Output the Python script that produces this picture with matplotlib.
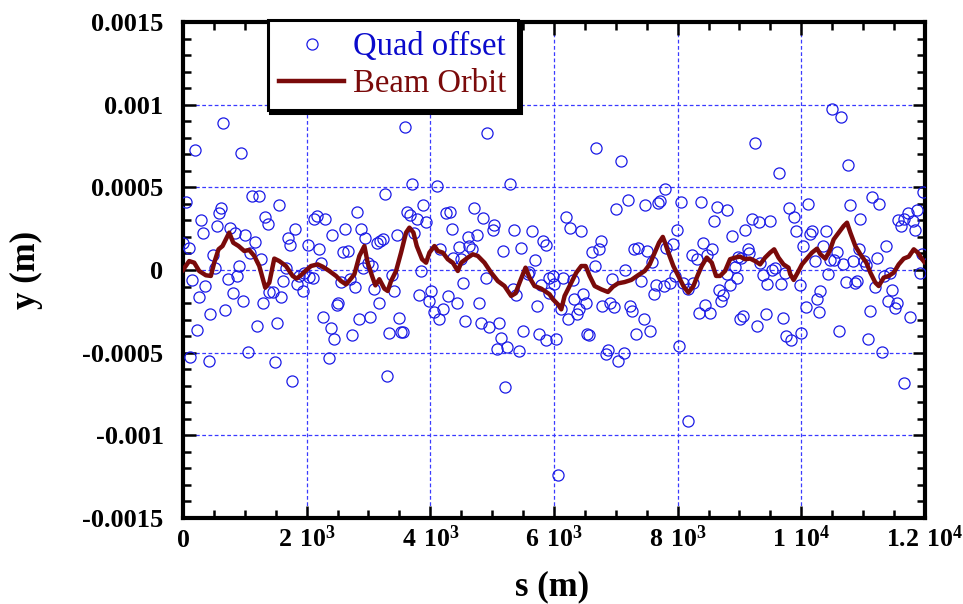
import numpy as np
import matplotlib
matplotlib.use('Agg')
import matplotlib.pyplot as plt
from matplotlib.ticker import MultipleLocator, FixedLocator, FixedFormatter

# Quad offsets (s in m, y in mm -> converted to m below)
quad_s = [
    46, 90, 3, 187, 640, 937, 295, 327, 543, 586, 619, 759, 845, 1007, 1158, 1083, 1266, 478, 511, 910,
    867, 726, 154, 360, 262, 802, 975, 683, 435, 219, 1191, 1514, 111, 413, 1050, 1482, 1763, 1115, 1223, 1331,
    1374, 1547, 1806, 1698, 1730, 1298, 1396, 1450, 1590, 1622, 1666, 1849, 1946, 1881, 2016, 1962,
    2043, 2097, 3597, 3705, 3273, 3889, 3932, 2162, 2118, 2302, 2809, 2626, 2410, 2874, 2950, 2194, 2237, 3630,
    3673, 3781, 3738, 3457, 3133, 3187, 3241, 2593, 2669, 2993, 2917, 3058, 3846, 2550, 2701, 2777, 3090, 3381,
    3414, 3813, 3166, 2507, 2485, 2270, 2842, 3025, 3489, 2388, 2442, 2734, 3338, 3522, 3565, 2356, 3306, 3986,
    4013, 4061, 4148, 4213, 4288, 4428, 4105, 4925, 5281, 4256, 4321, 4353, 4709, 4849, 5033, 5011, 4752, 4612,
    4461, 4633, 4677, 4364, 4493, 4159, 5173, 5357, 5470, 5648, 5686, 5821, 5875, 4903, 4526, 4785, 4569, 4817,
    4957, 5119, 5141, 5076, 5238, 5432, 5335, 5389, 5573, 5594, 5788, 5724, 5497, 5756, 5864, 5216, 5918, 5918,
    6037, 5983, 6004, 6145, 6307, 6328, 6220, 6371, 6404, 6469, 6523, 6112, 6069, 6684, 7084, 7791, 7008, 7192,
    7472, 7678, 7721, 6188, 6253, 6436, 6760, 6728, 6609, 6663, 7300, 7365, 7505, 7580, 7818, 6933, 7149, 7408,
    7645, 7624, 7775, 6782, 6901, 6976, 7224, 7267, 7451, 6533, 6566, 7332, 7548, 6836, 6879, 7041, 7127,
    7920, 7877, 7952, 7985, 8060, 8384, 8028, 8093, 8168, 8255, 8233, 8309, 8406, 8471, 8557, 8589, 8643, 8805,
    8881, 9097, 9205, 9313, 9486, 9248, 9636, 9798, 9140, 9162, 8978, 9021, 8795, 8935, 8956, 8848, 8665, 8740,
    8697, 9334, 9388, 9453, 9528, 9582, 9669, 9744, 8341, 8449, 8525, 9010, 9064, 9280, 9431, 9712, 9755, 9840,
    8168,
    9995, 9973, 9887, 9908, 10027, 10113, 10146, 10178, 10221, 10070, 10254, 10308, 10286, 10351, 10394, 10437,
    10470, 10524, 10578, 10675, 10610, 10502, 10642, 10761, 10783, 10955, 10934, 10837, 10718, 10869, 10901,
    11009, 11052, 11150, 11258, 11225, 11365, 11193, 11333, 11441, 11473, 11398, 11516, 11549, 11106, 11074,
    11301, 11657, 11560, 11614, 11668, 11722, 11808, 11840, 11873, 11970, 11948, 11916, 11765,
]
quad_y_mm = [
    0.411, 0.135, 0.161, 0.726, 0.887, 0.706, 0.302, 0.226, 0.266, 0.343, 0.377, 0.252, 0.226, 0.210, 0.169, 0.105, 0.069, 0.089, 0.014, 0.024,
    -0.036, -0.056, -0.063, -0.097, -0.161, -0.141, -0.188, -0.242, -0.266, -0.363, -0.339, -0.323, -0.524, -0.550, -0.496, -0.556, -0.673, 0.448, 0.448, 0.321,
    0.280, 0.391, 0.250, 0.192, 0.153, -0.198, -0.133, -0.133, -0.161, -0.069, 0.014, -0.087, -0.127, -0.036, 0.149, -0.016,
    -0.042, -0.046, 0.865, 0.522, 0.458, 0.391, 0.292, 0.327, 0.306, 0.310, 0.351, 0.250, 0.210, 0.246, 0.192, 0.129, 0.044, 0.351,
    0.331, 0.310, 0.222, 0.210, 0.161, 0.175, 0.185, 0.109, 0.117, 0.044, 0.012, 0.024, -0.006, -0.073, -0.056, -0.105, -0.117, -0.028,
    -0.129, -0.149, -0.198, -0.202, -0.214, -0.282, -0.294, -0.286, -0.290, -0.351, -0.415, -0.391, -0.379, -0.375, -0.375, -0.532, -0.641, -0.188,
    -0.127, -0.254, -0.294, -0.234, -0.157, -0.198, 0.508, 0.831, 0.522, 0.343, 0.351, 0.250, 0.377, 0.315, 0.270, 0.242, 0.210, 0.202,
    0.141, 0.145, 0.129, 0.073, 0.065, 0.125, 0.115, 0.242, 0.133, 0.234, 0.058, 0.177, 0.149, -0.046, -0.077, -0.198, -0.310, -0.319,
    -0.343, -0.319, -0.409, -0.476, -0.464, -0.488, -0.113, -0.153, -0.024, -0.012, -0.093, -0.218, -0.371, -0.387, -0.423, -0.710, -0.046, -0.141,
    -0.419, -0.036, -0.087, -0.048, -0.060, -0.173, -0.294, -0.266, -0.238, -0.147, -0.202, -0.238, -1.242, 0.740, 0.661, 0.492, 0.367, 0.421,
    0.391, 0.403, 0.417, 0.323, 0.254, 0.234, 0.175, 0.129, 0.109, 0.024, 0.125, 0.133, 0.117, 0.048, 0.135, -0.052, 0.000, -0.067,
    -0.089, -0.143, -0.097, -0.218, -0.198, -0.222, -0.218, -0.250, -0.294, -0.387, -0.395, -0.389, -0.367, -0.508, -0.484, -0.552, -0.500,
    0.155, -0.081, -0.036, 0.242, 0.411, 0.411, -0.460, -0.077, -0.117, -0.077, 0.093, 0.069, 0.161, 0.093, 0.125, 0.294, 0.383, 0.363,
    0.206, 0.242, 0.310, 0.290, 0.298, 0.766, 0.585, 0.377, 0.129, 0.105, 0.081, 0.073, -0.026, 0.020, -0.046, -0.093, -0.121, -0.149,
    -0.190, 0.044, -0.032, -0.085, 0.000, 0.012, -0.085, -0.016, -0.258, -0.214, -0.262, -0.294, -0.278, -0.339, -0.266, -0.292, -0.399, -0.423,
    -0.913,
    -0.383, -0.089, 0.319, 0.234, 0.145, 0.399, 0.218, 0.238, 0.052, -0.222, -0.173, -0.127, -0.254, 0.145, 0.238, -0.026,
    0.060, 0.060, 0.109, 0.034, -0.371, 0.976, 0.925, 0.635, 0.395, 0.310, 0.129, 0.052, -0.073, -0.077, -0.069,
    0.054, 0.032, 0.444, 0.399, 0.075, 0.145, -0.105, -0.036, -0.020, -0.121, -0.188, -0.230, -0.202, -0.250, -0.419,
    -0.496, -0.681, 0.302, 0.266, 0.306, 0.347, 0.298, 0.240, 0.363, 0.472, 0.095, -0.016, -0.286,
]

# Beam orbit (s in m, y in mm)
orbit_s = [
    0, 100, 182, 262, 370, 451, 505, 575, 640, 748, 813, 899, 991, 1072, 1153, 1234, 1331, 1396, 1477, 1558,
    1666, 1774, 1838, 1908, 1979, 2070, 2178, 2259, 2367, 2475, 2556, 2637, 2718, 2772, 2853, 2934, 2987, 3058,
    3112, 3176, 3257, 3311, 3365, 3446, 3527, 3608, 3662, 3727, 3781, 3867, 3932, 3986, 4067, 4121, 4202, 4283,
    4364, 4445, 4499, 4607, 4687, 4768, 4876, 4984, 5092, 5200, 5308, 5378, 5443, 5540, 5605, 5686, 5794, 5929,
    5983, 6064, 6118, 6172, 6253, 6361, 6442, 6512, 6577, 6658, 6765, 6873, 6954, 7035, 7143, 7251, 7359, 7467,
    7548, 7629, 7699, 7760, 7796, 7850, 7931, 8012, 8093, 8174, 8255, 8320, 8390, 8471, 8552, 8622, 8687, 8767,
    8848, 8929, 9010, 9091, 9172, 9253, 9334, 9415, 9496, 9561, 9631, 9712, 9793, 9822, 9876, 9941, 10011,
    10092, 10173, 10254, 10308, 10389, 10459, 10524, 10605, 10685, 10739, 10793, 10874, 10955, 11052, 11117,
    11198, 11252, 11333, 11414, 11495, 11576, 11657, 11738, 11819, 11884, 11954, 11990,
]
orbit_y_mm = [
    0.000, 0.054, 0.044, -0.006, -0.032, -0.036, 0.044, 0.125, 0.145, 0.226, 0.165, 0.145, 0.115, 0.121, 0.085, 0.024, -0.107, -0.077, 0.069, 0.054,
    0.024, -0.036, -0.052, -0.032, -0.006, 0.024, 0.034, 0.020, -0.006, -0.036, -0.067, -0.087, -0.052, -0.026, 0.085, 0.145, 0.044, -0.036,
    -0.093, -0.056, -0.113, -0.127, -0.067, -0.006, 0.105, 0.226, 0.256, 0.226, 0.145, 0.065, 0.044, 0.105, 0.145, 0.115, 0.105, 0.065,
    0.044, -0.006, 0.044, 0.075, 0.095, 0.085, 0.044, -0.016, -0.067, -0.097, -0.157, -0.141, -0.077, 0.014, -0.046, -0.097, -0.113, -0.147,
    -0.177, -0.208, -0.238, -0.157, -0.097, -0.016, 0.024, 0.024, -0.036, -0.097, -0.117, -0.133, -0.101, -0.081, -0.073, -0.060, -0.032, -0.006,
    0.034, 0.105, 0.165, 0.200, 0.165, 0.105, 0.024, -0.036, -0.097, -0.137, -0.097, -0.036, 0.024, 0.075, 0.044, -0.036, -0.036, -0.006,
    0.065, 0.075, 0.081, 0.065, 0.069, 0.054, 0.034, 0.075, 0.105, 0.125, 0.075, 0.034, 0.014, -0.026, -0.060, -0.016, 0.034,
    0.069, 0.105, 0.129, 0.095, 0.069, 0.115, 0.185, 0.226, 0.266, 0.286, 0.226, 0.145, 0.095, 0.044, -0.016,
    -0.077, -0.097, -0.046, -0.036, -0.016, 0.034, 0.069, 0.081, 0.125, 0.105, 0.065, 0.048,
]

x_ticks = [0, 2000, 4000, 6000, 8000, 10000, 12000]
x_labels = [r'$\mathbf{0}$', r'$\mathbf{2\ 10^{3}}$', r'$\mathbf{4\ 10^{3}}$', r'$\mathbf{6\ 10^{3}}$',
            r'$\mathbf{8\ 10^{3}}$', r'$\mathbf{1\ 10^{4}}$', r'$\mathbf{1.2\ 10^{4}}$']
y_ticks = [-0.0015, -0.001, -0.0005, 0, 0.0005, 0.001, 0.0015]
y_labels = ['-0.0015', '-0.001', '-0.0005', '0', '0.0005', '0.001', '0.0015']

plt.rcParams['font.family'] = 'Liberation Serif'
plt.rcParams['mathtext.fontset'] = 'custom'
plt.rcParams['mathtext.rm'] = 'Liberation Serif'
plt.rcParams['mathtext.bf'] = 'Liberation Serif:bold'

quad_y = np.array(quad_y_mm) * 1e-3
orbit_y = np.array(orbit_y_mm) * 1e-3

fig = plt.figure(figsize=(9.63, 6.04), dpi=100)
ax = fig.add_axes([0.190, 0.1424, 0.7705, 0.8212])

ax.plot(quad_s, quad_y, 'o', mfc='none', mec='#1a1ae6', ms=8, mew=0.9, label='Quad offset', zorder=3)
ax.plot(orbit_s, orbit_y, '-', color='#7a0a0a', lw=3.2, label='Beam Orbit', zorder=4)

ax.set_xlim(0, 12000)
ax.set_ylim(-0.0015, 0.0015)

ax.xaxis.set_major_locator(FixedLocator(x_ticks))
ax.xaxis.set_major_formatter(FixedFormatter(x_labels))
ax.xaxis.set_minor_locator(MultipleLocator(500))
ax.yaxis.set_major_locator(FixedLocator(y_ticks))
ax.yaxis.set_major_formatter(FixedFormatter(y_labels))
ax.yaxis.set_minor_locator(MultipleLocator(0.0001))

ax.grid(True, which='major', color='#3a3aff', linestyle=(0, (3, 2)), linewidth=0.9)
ax.set_axisbelow(True)

for sp in ax.spines.values():
    sp.set_linewidth(3)

ax.tick_params(which='both', direction='in', top=True, right=True, width=1.8)
ax.tick_params(which='major', length=9)
ax.tick_params(which='minor', length=6)
ax.tick_params(axis='y', which='major', pad=14, labelsize=19)
ax.tick_params(axis='x', which='major', pad=21, labelsize=18.5)
for lbl in ax.get_yticklabels():
    lbl.set_fontweight('bold')
# baseline-align x labels so "0" sits level with the "n 10^k" ones
for lbl in ax.get_xticklabels():
    lbl.set_verticalalignment('baseline')

ax.set_xlabel('s (m)', fontsize=25, fontweight='bold')
ax.set_ylabel('y (m)', fontsize=25, fontweight='bold')
ax.xaxis.set_label_coords(0.497, -0.105)
ax.yaxis.set_label_coords(-0.189, 0.5)

leg = ax.legend(loc='upper left', bbox_to_anchor=(0.114, 1.004), borderaxespad=0,
                fontsize=23.5, handlelength=2.0, handletextpad=0.28, labelspacing=0.2,
                borderpad=0.35, fancybox=False, framealpha=1,
                shadow={'color': 'black', 'alpha': 1},
                labelcolor=['#0a0acc', '#7a0a0a'])
leg.get_frame().set_edgecolor('black')
leg.get_frame().set_linewidth(2.2)

fig.savefig('out.png', dpi=100)
